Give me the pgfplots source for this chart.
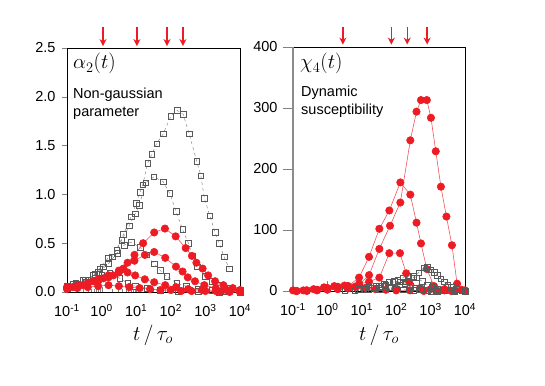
\documentclass[border=0pt]{standalone}
\usepackage{fontspec}
\setmainfont{Liberation Sans}
\usepackage{pgfplots}
\pgfplotsset{compat=1.18}
\usetikzlibrary{arrows.meta}
\definecolor{dred}{RGB}{237,28,36}

\pgfplotsset{
  panel/.style={
    scale only axis, width=173pt, height=244pt, anchor=south west,
    xmin=-1, xmax=4,
    xtick={-1,0,1,2,3,4},
    xticklabels={10\textsuperscript{-1},10\textsuperscript{0},10\textsuperscript{1},10\textsuperscript{2},10\textsuperscript{3},10\textsuperscript{4}},
    minor xtick={-0.699,-0.523,-0.398,-0.301,-0.222,-0.155,-0.097,-0.046,
      0.301,0.477,0.602,0.699,0.778,0.845,0.903,0.954,
      1.301,1.477,1.602,1.699,1.778,1.845,1.903,1.954,
      2.301,2.477,2.602,2.699,2.778,2.845,2.903,2.954,
      3.301,3.477,3.602,3.699,3.778,3.845,3.903,3.954},
    tick pos=left, tick align=inside,
    major tick length=5pt, minor tick length=3pt,
    ticklabel style={font=\fontsize{14.5}{14.5}\selectfont},
    xticklabel style={yshift=-9pt},
    clip=false,
    axis line style={line width=0.7pt},
  },
  sq/.style={black!50, dashed, line width=0.45pt, mark=square, mark size=2.8pt,
    mark options={solid, draw=black!65, line width=0.5pt}},
  rc/.style={dred!75, line width=0.6pt, mark=*, mark size=3.7pt,
    mark options={fill=dred, draw=dred}},
}

\begin{document}
\begin{tikzpicture}[x=1pt,y=1pt]
\path[use as bounding box] (0,0) rectangle (545,385);

% ---- left panel: non-gaussian parameter
\begin{axis}[panel, at={(67pt,93pt)},
    ymin=0, ymax=2.5, ytick={0,0.5,1,1.5,2,2.5},
    yticklabels={0.0,0.5,1.0,1.5,2.0,2.5},
    y tick style={xshift=-5pt},
    yticklabel style={xshift=-8pt}]
\addplot[sq] coordinates {(-1,0.06) (-0.82,0.08) (-0.53,0.12) (-0.24,0.17) (-0.05,0.24) (0.19,0.35) (0.44,0.43) (0.63,0.59) (0.85,0.77) (1.01,0.91) (1.11,1.02) (1.19,1.10) (1.33,1.32) (1.45,1.41) (1.59,1.52) (1.78,1.62) (2.0,1.80) (2.19,1.86) (2.36,1.82) (2.53,1.62) (2.75,1.34) (2.87,1.19) (2.97,0.96) (3.13,0.78) (3.28,0.61) (3.40,0.50) (3.54,0.36) (3.69,0.24)};
\addplot[sq] coordinates {(-1,0.05) (-0.75,0.09) (-0.48,0.12) (-0.2,0.18) (0.05,0.26) (0.3,0.36) (0.58,0.53) (0.8,0.68) (0.97,0.80) (1.09,0.89) (1.28,1.12) (1.51,1.18) (1.78,1.13) (1.97,1.01) (2.15,0.83) (2.34,0.64) (2.51,0.50) (2.63,0.37) (2.77,0.26) (2.99,0.16) (3.18,0.11) (3.4,0.07) (3.7,0.04) (4,0.02)};
\addplot[sq] coordinates {(-1,0.05) (-0.7,0.08) (-0.4,0.12) (-0.1,0.2) (0.2,0.29) (0.45,0.40) (0.65,0.48) (0.85,0.51) (1.11,0.46) (1.3,0.38) (1.52,0.29) (1.7,0.22) (1.88,0.16) (2.17,0.09) (2.45,0.06) (2.8,0.03) (3.2,0.02) (3.6,0.01) (4,0.01)};
\addplot[sq] coordinates {(-1,0.04) (-0.7,0.07) (-0.45,0.10) (-0.2,0.14) (0.0,0.17) (0.24,0.19) (0.53,0.14) (0.75,0.09) (0.97,0.06) (1.3,0.04) (1.7,0.02) (2.2,0.01) (2.8,0.01) (3.4,0.0) (4,0.0)};
\addplot[rc] coordinates {(-1,0.05) (-0.7,0.06) (-0.4,0.08) (-0.1,0.11) (0.2,0.15) (0.5,0.22) (0.75,0.30) (0.95,0.38) (1.2,0.5) (1.52,0.61) (1.83,0.65) (2.14,0.57) (2.43,0.45) (2.61,0.37) (2.74,0.30) (2.92,0.24) (3.08,0.17) (3.28,0.11) (3.52,0.07) (3.79,0.04) (4.0,0.02)};
\addplot[rc] coordinates {(-1,0.04) (-0.84,0.05) (-0.55,0.07) (-0.24,0.11) (0.05,0.14) (0.34,0.17) (0.63,0.24) (0.95,0.32) (1.25,0.38) (1.52,0.41) (1.84,0.35) (2.15,0.26) (2.34,0.21) (2.49,0.15) (2.70,0.11) (2.97,0.07) (3.3,0.04) (3.6,0.02) (4,0.01)};
\addplot[rc] coordinates {(-1,0.04) (-0.7,0.06) (-0.4,0.09) (-0.1,0.13) (0.2,0.17) (0.5,0.2) (0.75,0.2) (0.97,0.17) (1.25,0.13) (1.52,0.10) (1.84,0.07) (2.15,0.05) (2.5,0.03) (2.9,0.02) (3.3,0.01) (3.7,0.01) (4,0.0)};
\addplot[rc] coordinates {(-1,0.03) (-0.7,0.04) (-0.4,0.05) (-0.1,0.06) (0.2,0.07) (0.5,0.06) (0.8,0.05) (1.1,0.04) (1.4,0.03) (1.7,0.02) (2.0,0.02) (2.3,0.01) (2.6,0.01) (3,0.01) (3.4,0.0) (3.7,0.0) (4,0.0)};
% arrows marking peak times
\pgfplotsinvokeforeach{0.04,1.02,1.89,2.35}{
  \draw[dred, line width=1.4pt, -{Stealth[length=7pt,width=7pt]}] (axis cs:#1,2.71) -- (axis cs:#1,2.52);
}
\end{axis}

% ---- right panel: dynamic susceptibility
\begin{axis}[panel, at={(293pt,94pt)}, width=172pt,
    ymin=0, ymax=400, ytick={0,100,200,300,400},
    yticklabels={0,100,200,300,400},
    major tick length=10pt,
    y tick style={xshift=-10pt},
    yticklabel style={xshift=-12pt}]
\addplot[rc] coordinates {(-0.9,0) (-0.6,0) (-0.3,1) (0.0,2) (0.3,3) (0.6,4) (0.92,10) (1.21,26) (1.51,69) (1.82,107) (2.12,145) (2.41,247) (2.59,294) (2.72,313) (2.89,313) (3.01,284) (3.15,229) (3.30,171) (3.46,122) (3.62,75) (3.77,12) (3.9,2) (4,1)};
\addplot[rc] coordinates {(-0.9,0) (-0.6,1) (-0.3,2) (0.0,4) (0.3,6) (0.6,8) (0.92,22) (1.21,56) (1.51,102) (1.80,132) (2.12,178) (2.41,158) (2.59,112) (2.72,78) (2.89,36) (3.1,8) (3.4,3) (3.7,1) (4,0)};
\addplot[rc] coordinates {(-0.9,0) (-0.6,1) (-0.3,2) (0.0,5) (0.3,7) (0.6,8) (0.92,12) (1.21,15) (1.51,22) (1.80,62) (2.11,62) (2.29,29) (2.38,14) (2.7,5) (3.0,3) (3.4,1) (3.7,0) (4,0)};
\addplot[rc] coordinates {(-1,1) (-0.7,1) (-0.4,3) (-0.1,6) (0.2,8) (0.5,9) (0.8,7) (1.1,5) (1.4,3) (1.7,2) (2.0,1) (2.4,1) (2.8,0) (3.2,0) (3.6,0) (4,0)};
\addplot[sq] coordinates {(1.5,2) (1.8,5) (2.1,10) (2.3,15) (2.5,22) (2.65,30) (2.8,38) (2.9,40) (3.0,35) (3.1,31) (3.2,26) (3.3,20) (3.4,15) (3.5,10) (3.6,6) (3.75,3) (3.9,1) (4,0)};
\addplot[sq] coordinates {(1.2,2) (1.5,5) (1.7,9) (1.9,14) (2.05,18) (2.2,22) (2.35,25) (2.5,24) (2.6,22) (2.75,16) (2.9,10) (3.05,6) (3.2,3) (3.4,1) (3.7,0) (4,0)};
\addplot[sq] coordinates {(0.8,1) (1.1,3) (1.3,5) (1.5,8) (1.65,11) (1.8,14) (1.95,16) (2.1,15) (2.25,12) (2.4,8) (2.55,5) (2.7,3) (2.9,1) (3.2,0)};
\addplot[sq] coordinates {(0.5,1) (0.9,3) (1.2,6) (1.4,8) (1.6,8) (1.8,6) (2.0,4) (2.2,2) (2.5,1) (3.0,0)};
\draw[black!45, line width=1.6pt] (rel axis cs:0,0) -- (rel axis cs:0,1);
\pgfplotsinvokeforeach{0.45,1.86,2.32,2.9}{
  \draw[dred, line width=1.4pt, -{Stealth[length=7pt,width=7pt]}] (axis cs:#1,433) -- (axis cs:#1,404);
}
\end{axis}

% ---- labels
\node[anchor=base west, inner sep=0] at (73,316) {\fontsize{20}{20}\selectfont$\alpha_2(t)$};
\node[anchor=base west, inner sep=0] at (73,286) {\fontsize{14.5}{14.5}\selectfont Non-gaussian};
\node[anchor=base west, inner sep=0] at (73,268) {\fontsize{14.5}{14.5}\selectfont parameter};
\node[anchor=base west, inner sep=0] at (300,316) {\fontsize{20}{20}\selectfont$\chi_4(t)$};
\node[anchor=base west, inner sep=0] at (301,288) {\fontsize{14.5}{14.5}\selectfont Dynamic};
\node[anchor=base west, inner sep=0] at (301,270) {\fontsize{14.5}{14.5}\selectfont susceptibility};
\node[anchor=base, inner sep=0] at (153,45) {\fontsize{21}{21}\selectfont$t\,/\,\tau_o$};
\node[anchor=base, inner sep=0] at (379,45) {\fontsize{21}{21}\selectfont$t\,/\,\tau_o$};
\end{tikzpicture}
\end{document}
